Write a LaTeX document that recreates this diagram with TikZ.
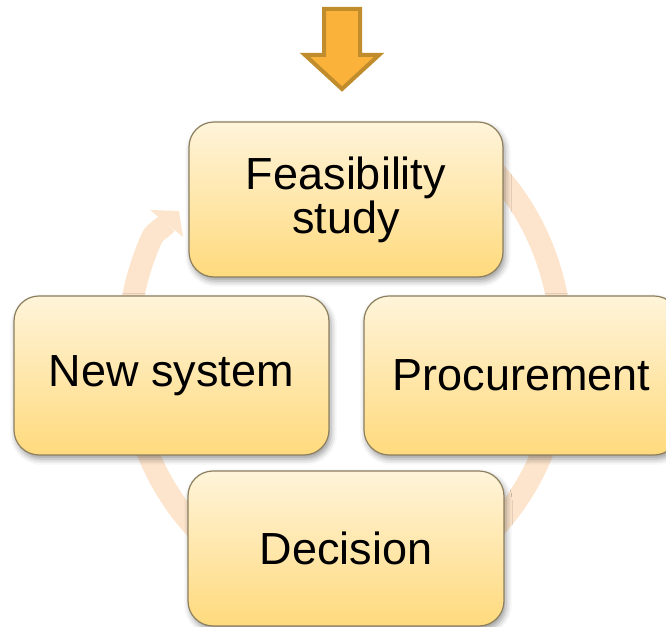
\documentclass[tikz,border=0pt]{standalone}
\usepackage{fontspec}
\setmainfont{Liberation Sans}
\usetikzlibrary{shadows.blur}
\definecolor{boxtop}{HTML}{FFF4DA}
\definecolor{boxbot}{HTML}{FFDA7D}
\definecolor{boxline}{HTML}{8C7F5E}
\definecolor{ringcol}{HTML}{FDE5CD}
\definecolor{arrowfill}{HTML}{FBB23A}
\definecolor{arrowline}{HTML}{C08C2C}
\tikzset{
	stage/.style={rectangle, rounded corners=12.5pt, draw=boxline, line width=0.6pt,
		top color=boxtop, bottom color=boxbot, align=center,
		font=\fontsize{22.5}{22}\selectfont,
		blur shadow={shadow xshift=1pt, shadow yshift=-2pt, shadow blur radius=3pt, shadow opacity=40}},
}

\begin{document}
\begin{tikzpicture}[x=0.5pt, y=0.5pt]
	\useasboundingbox (0,0) rectangle (666,627);
	\clip (0,0) rectangle (666,627);
	% ring behind the stages
	\draw[ringcol, line width=11pt] (484.5,465.4) arc[start angle=50, end angle=-207, x radius=217, y radius=246]
		to[out=65.8, in=230.7] (166.5,403.5);
	\fill[ringcol] (150,417) -- (179,416) -- (183,390) -- cycle;
	% input arrow
	\filldraw[fill=arrowfill, draw=arrowline, line width=2pt, line join=miter]
		(324,618) -- (360,618) -- (360,572) -- (379,572) -- (342,538) -- (305,572) -- (324,572) -- cycle;
	% stages
	\node[stage, minimum width=157pt, minimum height=77.5pt] (feas) at (346,427.5) {Feasibility\\study};
	\node[stage, minimum width=157.5pt, minimum height=79.5pt] (newsys) at (171.5,251.5) {New system};
	\node[stage, minimum width=157.5pt, minimum height=79.5pt] (proc) at (521.5,251.5) {Procurement};
	\node[stage, minimum width=158pt, minimum height=77.5pt] (dec) at (346,78.5) {Decision};
\end{tikzpicture}
\end{document}
